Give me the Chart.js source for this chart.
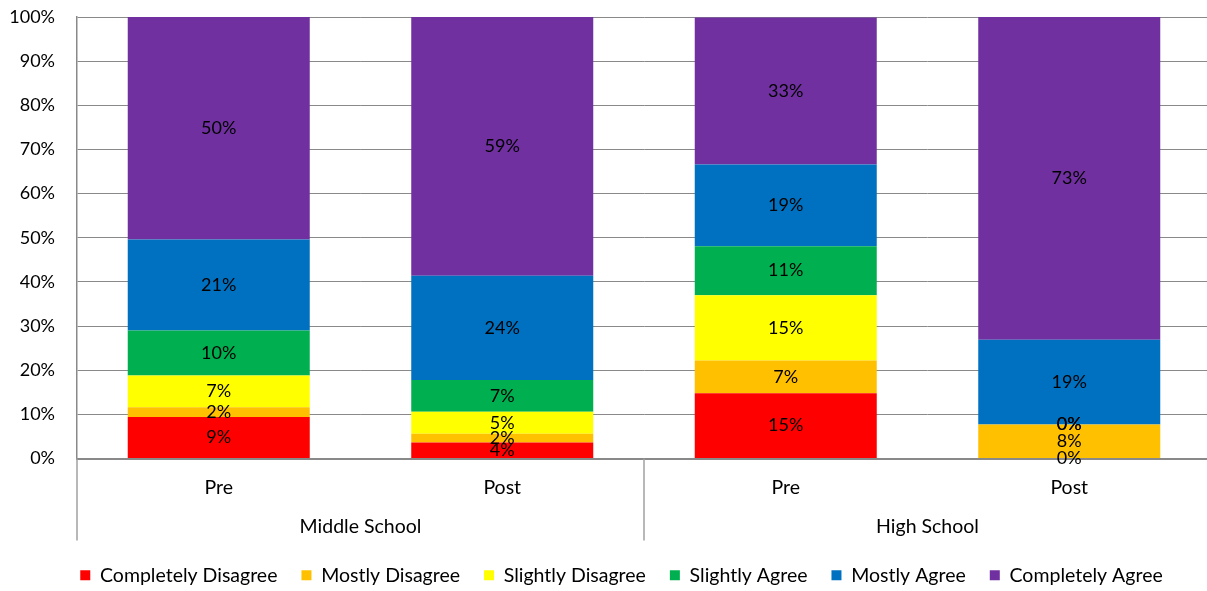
<!DOCTYPE html>
<html>
<head>
<meta charset="utf-8">
<script src="https://cdn.jsdelivr.net/npm/chart.js@4"></script>
<style>
  html, body { margin: 0; padding: 0; background: #fff; overflow: hidden; }
  #wrap { width: 1216px; height: 595px; }
</style>
</head>
<body>
<div id="wrap"><canvas id="surveyChart"></canvas></div>
<script>
// Respostas pré/pós por nível escolar (100% empilhado)

const phases = ['Pre', 'Post', 'Pre', 'Post'];
const schools = ['Middle School', 'High School'];
const yTicks = [0, 10, 20, 30, 40, 50, 60, 70, 80, 90, 100];

const completelyDisagree = [9.4, 3.6, 14.8, 0];
const mostlyDisagree     = [2.2, 2.0, 7.4, 7.7];
const slightlyDisagree   = [7.2, 5.0, 14.8, 0];
const slightlyAgree      = [10.2, 7.2, 11.1, 0];
const mostlyAgree        = [20.6, 23.6, 18.5, 19.2];
const completelyAgree    = [50.4, 58.6, 33.3, 73.1];

const axisGray = '#898989';
const font = 'Lato, "Open Sans", sans-serif';

const series = [
  { label: 'Completely Disagree', data: completelyDisagree, color: '#FF0000' },
  { label: 'Mostly Disagree', data: mostlyDisagree, color: '#FFC000' },
  { label: 'Slightly Disagree', data: slightlyDisagree, color: '#FFFF00' },
  { label: 'Slightly Agree', data: slightlyAgree, color: '#00B050' },
  { label: 'Mostly Agree', data: mostlyAgree, color: '#0070C0' },
  { label: 'Completely Agree', data: completelyAgree, color: '#7030A0' }
];

// rótulos de valor no centro de cada segmento
const segmentLabels = {
  id: 'segmentLabels',
  afterDatasetsDraw(chart) {
    const ctx = chart.ctx;
    ctx.save();
    ctx.font = '18px ' + font;
    ctx.fillStyle = '#000';
    ctx.textAlign = 'center';
    ctx.textBaseline = 'middle';
    chart.data.datasets.forEach((ds, i) => {
      chart.getDatasetMeta(i).data.forEach((bar, j) => {
        ctx.fillText(Math.round(ds.data[j]) + '%', bar.x, (bar.y + bar.base) / 2);
      });
    });
    ctx.restore();
  }
};

// segundo nível do eixo x: escolas e linhas divisórias
const groupAxis = {
  id: 'groupAxis',
  afterLayout(chart) {
    // legenda um pouco deslocada para a direita
    chart.legend.left += 16;
    chart.legend.right += 16;
  },
  afterDraw(chart) {
    const ctx = chart.ctx;
    const x = chart.scales.x;
    const top = chart.chartArea.bottom;
    const bottom = top + 82;
    ctx.save();
    ctx.strokeStyle = '#A0A0A0';
    ctx.lineWidth = 1.5;
    const edges = [x.left, (x.left + x.right) / 2];
    edges.forEach(px => {
      ctx.beginPath();
      ctx.moveTo(px, top);
      ctx.lineTo(px, bottom);
      ctx.stroke();
    });
    ctx.font = '19.5px ' + font;
    ctx.fillStyle = '#000';
    ctx.textAlign = 'center';
    ctx.textBaseline = 'middle';
    schools.forEach((name, k) => {
      const cx = (x.getPixelForValue(k * 2) + x.getPixelForValue(k * 2 + 1)) / 2;
      ctx.fillText(name, cx, top + 68);
    });
    ctx.restore();
  }
};

new Chart(document.getElementById('surveyChart'), {
  type: 'bar',
  data: {
    labels: phases,
    datasets: series.map(s => ({
      label: s.label,
      data: s.data,
      backgroundColor: s.color,
      borderWidth: 0,
      barPercentage: 0.642,
      categoryPercentage: 1
    }))
  },
  options: {
    responsive: true,
    maintainAspectRatio: false,
    animation: false,
    layout: { padding: { top: 17, right: 5, left: 0, bottom: 0 } },
    plugins: {
      tooltip: { enabled: false },
      legend: {
        position: 'bottom',
        labels: {
          color: '#000',
          font: { family: font, size: 19.5 },
          boxWidth: 10,
          boxHeight: 10,
          padding: 24
        }
      }
    },
    scales: {
      x: {
        stacked: true,
        grid: { display: false },
        border: { color: axisGray, width: 2 },
        ticks: { color: '#000', font: { family: font, size: 19.5 }, padding: 10 },
        afterFit(scale) { scale.height = 83; }
      },
      y: {
        stacked: true,
        min: 0,
        max: 100,
        afterBuildTicks(scale) { scale.ticks = yTicks.map(v => ({ value: v })); },
        afterFit(scale) { scale.width = 77; },
        grid: { color: axisGray, lineWidth: 1, drawTicks: true, tickLength: 22, tickColor: 'rgba(0,0,0,0)' },
        border: { color: axisGray, width: 1.5 },
        ticks: {
          color: '#000',
          font: { family: font, size: 18 },
          padding: 0,
          callback: v => v + '%'
        }
      }
    }
  },
  plugins: [segmentLabels, groupAxis]
});
</script>
</body>
</html>
